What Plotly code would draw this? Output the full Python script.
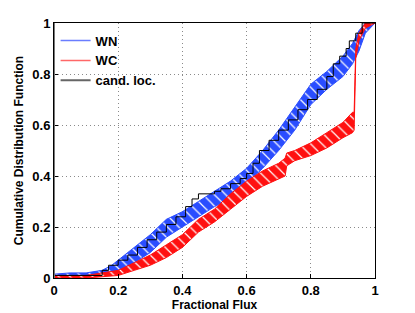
import plotly.graph_objects as go

# ---- data ----
tick_vals = [0, 0.2, 0.4, 0.6, 0.8, 1]
tick_text = ["0", "0.2", "0.4", "0.6", "0.8", "1"]

# WN band (blue): x positions with lower / upper envelope of the CDF bundle
wn_x  = [0.0, 0.05, 0.10, 0.15, 0.18, 0.20, 0.25, 0.30, 0.35, 0.40, 0.45, 0.50, 0.55, 0.60, 0.65, 0.70, 0.75, 0.80, 0.85, 0.90, 0.93, 0.95, 0.97, 1.0]
wn_hi = [0.015, 0.02, 0.02, 0.03, 0.05, 0.07, 0.12, 0.17, 0.23, 0.26, 0.30, 0.34, 0.38, 0.43, 0.50, 0.58, 0.67, 0.76, 0.81, 0.87, 0.92, 0.97, 1.0, 1.0]
wn_lo = [0.0, 0.005, 0.005, 0.01, 0.02, 0.03, 0.06, 0.10, 0.16, 0.20, 0.24, 0.28, 0.31, 0.37, 0.43, 0.50, 0.58, 0.68, 0.74, 0.79, 0.84, 0.89, 0.96, 1.0]

# WC band (red)
wc_x  = [0.0, 0.10, 0.15, 0.20, 0.25, 0.30, 0.35, 0.40, 0.45, 0.50, 0.55, 0.60, 0.65, 0.70, 0.72, 0.725, 0.75, 0.80, 0.85, 0.90, 0.93, 0.935, 0.94, 0.95, 0.97, 1.0]
wc_hi = [0.01, 0.01, 0.02, 0.03, 0.06, 0.09, 0.13, 0.17, 0.23, 0.27, 0.33, 0.38, 0.42, 0.45, 0.47, 0.49, 0.50, 0.53, 0.57, 0.61, 0.65, 0.65, 0.90, 0.96, 1.0, 1.0]
wc_lo = [0.0, 0.0, 0.005, 0.01, 0.03, 0.05, 0.08, 0.12, 0.18, 0.22, 0.27, 0.32, 0.36, 0.39, 0.40, 0.44, 0.46, 0.48, 0.51, 0.55, 0.57, 0.58, 0.86, 0.93, 0.98, 1.0]

# candidate locations (black step CDF)
cl_x = [0.0, 0.15, 0.17, 0.20, 0.23, 0.26, 0.29, 0.32, 0.35, 0.38, 0.41, 0.43, 0.45, 0.50, 0.52, 0.55, 0.58, 0.60, 0.62, 0.64, 0.67, 0.70, 0.73, 0.76, 0.79, 0.82, 0.85, 0.87, 0.89, 0.91, 0.92, 0.94, 0.96, 1.0]
cl_y = [0.01, 0.03, 0.05, 0.07, 0.09, 0.12, 0.15, 0.18, 0.21, 0.24, 0.28, 0.31, 0.33, 0.34, 0.35, 0.37, 0.39, 0.41, 0.45, 0.50, 0.54, 0.58, 0.62, 0.66, 0.70, 0.74, 0.79, 0.84, 0.87, 0.90, 0.93, 0.96, 1.0, 1.0]

BLUE = "#2a4dff"
RED = "#ff1010"
FONT = "Liberation Sans"

fig = go.Figure()


def band(x, lo, hi, color):
    fig.add_trace(go.Scatter(x=x, y=lo, mode="lines", line=dict(color=color, width=1),
                             showlegend=False, hoverinfo="skip"))
    fig.add_trace(go.Scatter(x=x, y=hi, mode="lines", line=dict(color=color, width=1),
                             fill="tonexty", fillcolor=color,
                             fillpattern=dict(shape="\\", bgcolor=color, fgcolor="white",
                                              size=8, solidity=0.15, fillmode="replace"),
                             showlegend=False, hoverinfo="skip"))


band(wn_x, wn_lo, wn_hi, BLUE)
band(wc_x, wc_lo, wc_hi, RED)

fig.add_trace(go.Scatter(x=cl_x, y=cl_y, mode="lines", line=dict(color="black", width=1, shape="hv"),
                         showlegend=False))

# legend entries
fig.add_trace(go.Scatter(x=[None], y=[None], mode="lines", name="WN", line=dict(color="#6a7dff", width=1.5)))
fig.add_trace(go.Scatter(x=[None], y=[None], mode="lines", name="WC", line=dict(color="#ff6868", width=1.5)))
fig.add_trace(go.Scatter(x=[None], y=[None], mode="lines", name="cand. loc.", line=dict(color="#666666", width=2)))

axis_common = dict(
    range=[0, 1], tickvals=tick_vals, ticktext=tick_text,
    showgrid=True, gridcolor="#8a8a8a", griddash="1px,3px", gridwidth=1,
    showline=True, linecolor="black", linewidth=1, mirror=True,
    ticks="inside", ticklen=4, tickcolor="black",
    zeroline=False, automargin=False,
    tickfont=dict(family=FONT, size=13, color="black", weight="bold"),
)

# the page body adds an 8px offset, so the figure is sized to fit the window
fig.update_layout(
    width=407, height=305,
    margin=dict(l=46, r=40, t=15, b=35),
    paper_bgcolor="white", plot_bgcolor="white",
    font=dict(family=FONT, color="black"),
    showlegend=True,
    legend=dict(x=0.005, y=0.99, xanchor="left", yanchor="top",
                bgcolor="rgba(0,0,0,0)", borderwidth=0, traceorder="normal",
                font=dict(family=FONT, size=13, color="black", weight="bold"),
                tracegroupgap=0, itemwidth=30),
    xaxis=dict(**axis_common, title=dict(text="Fractional Flux", standoff=2,
                                         font=dict(family=FONT, size=12, weight="bold"))),
    yaxis=dict(**axis_common, title=dict(text="Cumulative Distribution Function", standoff=6,
                                         font=dict(family=FONT, size=12, weight="bold"))),
)

# left spine appears gray and slightly thicker in the reference
fig.add_shape(type="line", xref="x", yref="paper", x0=0, x1=0, y0=0, y1=1,
              line=dict(color="#777777", width=2))

fig.write_html("out.html")
